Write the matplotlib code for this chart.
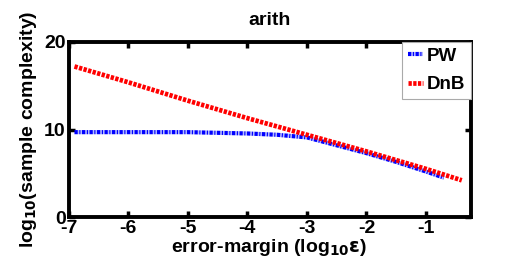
import matplotlib
matplotlib.use("Agg")
import matplotlib.pyplot as plt

plt.rcParams['font.family'] = ['Liberation Sans', 'DejaVu Sans']
plt.rcParams['font.weight'] = 'bold'
plt.rcParams['axes.unicode_minus'] = False
plt.rcParams['mathtext.default'] = 'bf'

# log10(error margin)
eps_pw = [-6.9, -6.0, -5.0, -4.0, -3.5, -3.0, -2.5, -2.0, -1.5, -1.0, -0.7]
pw = [9.7, 9.7, 9.7, 9.55, 9.4, 9.1, 8.2, 7.3, 6.3, 5.2, 4.5]

eps_dnb = [-6.9, -6.0, -5.0, -4.0, -3.0, -2.0, -1.0, -0.4]
dnb = [17.2, 15.4, 13.3, 11.3, 9.4, 7.5, 5.5, 4.2]

fig = plt.figure(figsize=(5.21, 2.69), dpi=100)
ax = fig.add_axes([0.1315, 0.193, 0.772, 0.651])

ax.plot(eps_pw, pw, color='blue', linestyle=(0, (0.8, 0.35, 0.3, 0.35)), linewidth=3.0,
        gapcolor='#b4bcff', label='PW')
ax.plot(eps_dnb, dnb, color='red', linestyle=(0, (0.7, 0.3)), linewidth=3.4, label='DnB')

ax.set_xlim(-7, -0.25)
ax.set_ylim(0, 20)
ax.set_xticks([-7, -6, -5, -4, -3, -2, -1])
ax.set_yticks([0, 10, 20])
ax.tick_params(direction='in', top=True, right=True, labelsize=14, length=4, width=2.5, pad=2)
for s in ax.spines.values():
    s.set_linewidth(2.8)

ax.set_title('arith', fontsize=14, fontweight='bold', pad=12)
ax.set_xlabel(r'error-margin (log$_{10}\varepsilon$)', fontsize=14, fontweight='bold', labelpad=0)
ax.set_ylabel(r'log$_{10}$(sample complexity)', fontsize=14, fontweight='bold', labelpad=4)

leg = ax.legend(loc='upper right', fontsize=13.5, fancybox=False, framealpha=1,
                handlelength=0.8, handletextpad=0.2, borderpad=0.3, borderaxespad=0.0,
                labelspacing=0.6)
leg.get_frame().set_edgecolor('#aaaaaa')
leg.get_frame().set_linewidth(0.8)

fig.savefig('out.png', dpi=100)
